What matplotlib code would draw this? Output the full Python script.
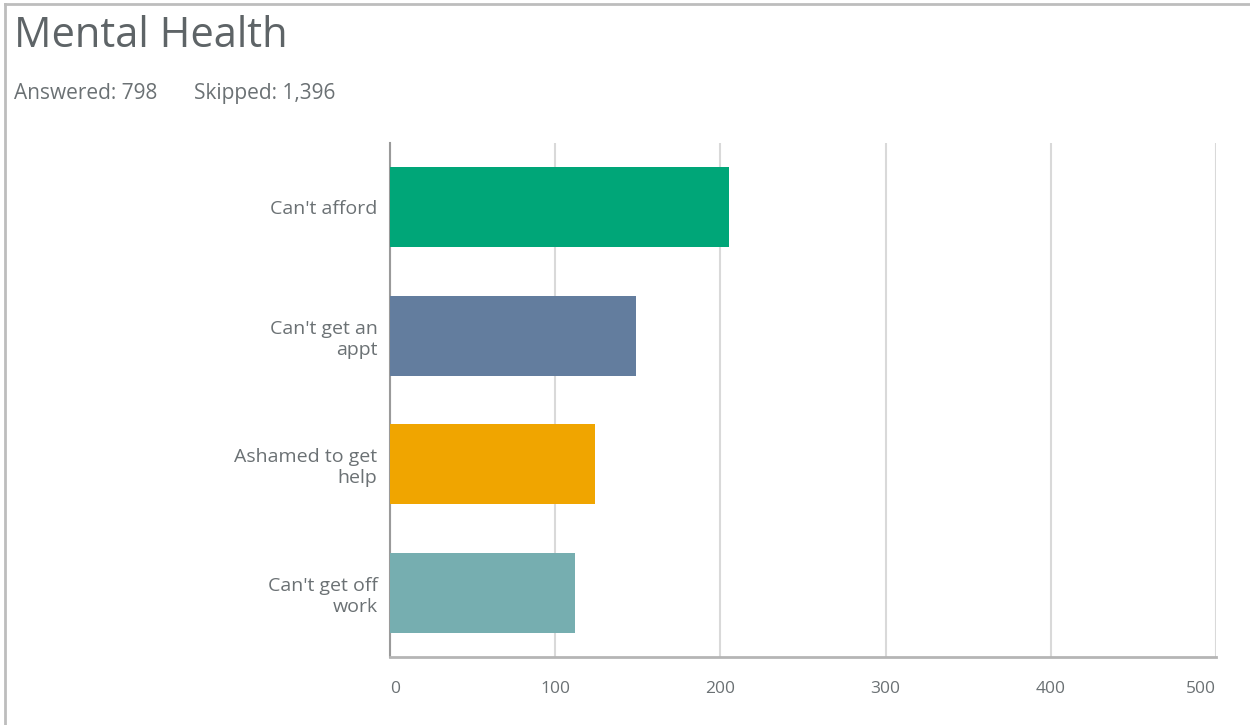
import numpy as np
import matplotlib.pyplot as plt
from matplotlib.lines import Line2D

categories = ["Can't afford", "Can't get an\nappt", "Ashamed to get\nhelp", "Can't get off\nwork"]
counts = [205, 149, 124, 112]
colors = ['#00A678', '#637D9E', '#F0A500', '#76AEB0']
xticks = [0, 100, 200, 300, 400, 500]

txt = '#6B7174'
plt.rcParams['font.family'] = ['Open Sans', 'DejaVu Sans']

fig = plt.figure(figsize=(12.5, 7.25), dpi=100)
ax = fig.add_axes([0.312, 0.0938, 0.6608, 0.709])

y = np.arange(len(categories))
ax.barh(y, counts, height=0.62, color=colors, zorder=3)
ax.set_ylim(3.5, -0.5)
ax.set_xlim(0, 500)

ax.set_xticks(xticks)
ax.set_xticklabels([str(t) for t in xticks], color=txt, fontsize=12.5)
labs = ax.get_xticklabels()
labs[0].set_ha('left')
labs[-1].set_ha('right')
ax.set_yticks(y)
ax.set_yticklabels(categories, color=txt, fontsize=14, linespacing=1.2)
ax.tick_params(axis='x', length=0, pad=17)
ax.tick_params(axis='y', length=0, pad=9)

ax.grid(axis='x', color='#d9d9d9', linewidth=1.5, zorder=0)
for s in ['top', 'right']:
    ax.spines[s].set_visible(False)
ax.spines['left'].set_color('#9a9a9a')
ax.spines['left'].set_linewidth(1.5)
ax.spines['bottom'].set_color('#b5b5b5')
ax.spines['bottom'].set_linewidth(2)

fig.text(0.011, 0.95, 'Mental Health', fontsize=30, color='#5E6467',
         va='center', ha='left')
fig.text(0.011, 0.871, 'Answered: 798', fontsize=15, color=txt, va='center', ha='left')
fig.text(0.155, 0.871, 'Skipped: 1,396', fontsize=15, color=txt, va='center', ha='left')

# frame lines around the card
fig.add_artist(Line2D([0.004, 1.0], [0.994, 0.994], color='#bdbdbd', linewidth=2))
fig.add_artist(Line2D([0.004, 0.004], [0.0, 0.994], color='#bdbdbd', linewidth=2))

fig.savefig('out.png', dpi=100)
